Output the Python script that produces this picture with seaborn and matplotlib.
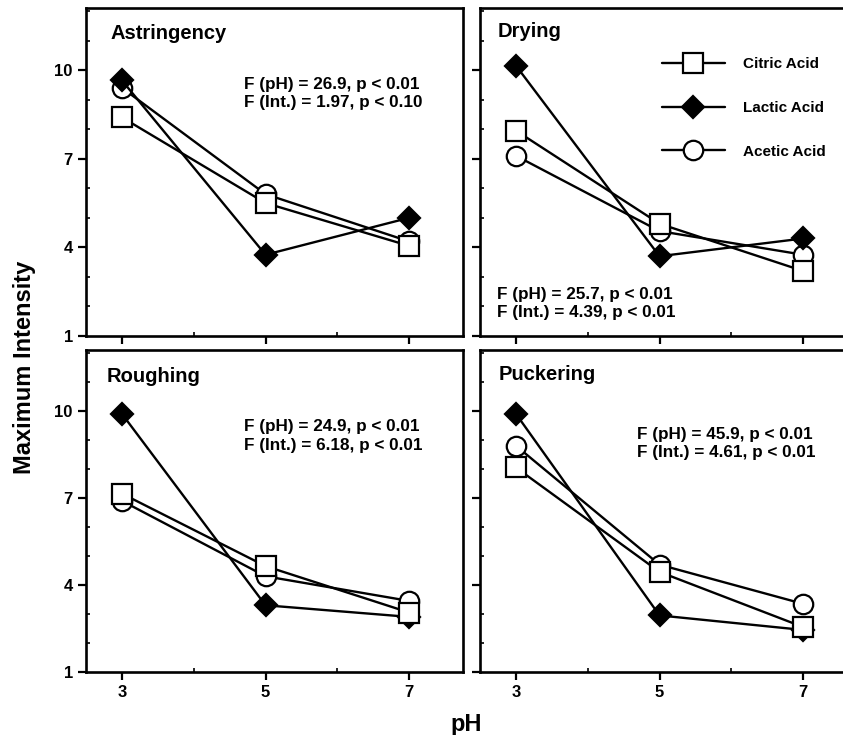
from matplotlib import pyplot as plt
from matplotlib.ticker import MultipleLocator, FixedLocator
import seaborn as sns
import pandas as pd

ph_levels = [3, 5, 7]
acids = ["Citric Acid", "Lactic Acid", "Acetic Acid"]
panels = ["Astringency", "Drying", "Roughing", "Puckering"]

citric = {
    "Astringency": [8.4, 5.5, 4.05],
    "Drying": [7.95, 4.8, 3.2],
    "Roughing": [7.15, 4.65, 3.05],
    "Puckering": [8.05, 4.45, 2.55],
}
lactic = {
    "Astringency": [9.65, 3.75, 5.0],
    "Drying": [10.15, 3.7, 4.3],
    "Roughing": [9.9, 3.3, 2.9],
    "Puckering": [9.9, 2.95, 2.45],
}
acetic = {
    "Astringency": [9.4, 5.8, 4.2],
    "Drying": [7.1, 4.55, 3.75],
    "Roughing": [6.9, 4.3, 3.45],
    "Puckering": [8.8, 4.7, 3.35],
}

stats_text = {
    "Astringency": "F (pH) = 26.9, p < 0.01\nF (Int.) = 1.97, p < 0.10",
    "Drying": "F (pH) = 25.7, p < 0.01\nF (Int.) = 4.39, p < 0.01",
    "Roughing": "F (pH) = 24.9, p < 0.01\nF (Int.) = 6.18, p < 0.01",
    "Puckering": "F (pH) = 45.9, p < 0.01\nF (Int.) = 4.61, p < 0.01",
}
# where things sit inside each panel (axes fraction)
stats_pos = {
    "Astringency": (0.42, 0.79),
    "Drying": (0.045, 0.15),
    "Roughing": (0.42, 0.785),
    "Puckering": (0.416, 0.762),
}
title_pos = {
    "Astringency": (0.064, 0.905),
    "Drying": (0.048, 0.912),
    "Roughing": (0.056, 0.90),
    "Puckering": (0.05, 0.907),
}

rows = []
for acid, series in zip(acids, [citric, lactic, acetic]):
    for panel in panels:
        for ph, val in zip(ph_levels, series[panel]):
            rows.append({"acid": acid, "panel": panel, "pH": ph, "intensity": val})
df = pd.DataFrame(rows)

sns.set_theme(style="ticks")
plt.rcParams["font.family"] = ["Liberation Sans", "DejaVu Sans"]
plt.rcParams["font.weight"] = "bold"
plt.rcParams["text.color"] = "black"
plt.rcParams["xtick.color"] = "black"
plt.rcParams["ytick.color"] = "black"

fig = plt.figure(figsize=(8.43, 7.35), dpi=100)
W, H = 843, 735
boxes = {
    "Astringency": (86, 8, 377, 328),
    "Drying": (480, 8, 377, 328),
    "Roughing": (86, 350, 377, 322),
    "Puckering": (480, 350, 377, 322),
}

marker_style = {
    "Citric Acid": dict(marker="s", markersize=14, markerfacecolor="white"),
    "Lactic Acid": dict(marker="D", markersize=11.5, markerfacecolor="black"),
    "Acetic Acid": dict(marker="o", markersize=14, markerfacecolor="white"),
}
draw_order = ["Acetic Acid", "Lactic Acid", "Citric Acid"]

for i, panel in enumerate(panels):
    x0, y0, w, h = boxes[panel]
    ax = fig.add_axes([x0 / W, 1 - (y0 + h) / H, w / W, h / H])
    sub = df[df["panel"] == panel]
    for acid in draw_order:
        sns.lineplot(data=sub[sub["acid"] == acid], x="pH", y="intensity", ax=ax,
                     color="black", linewidth=1.7, markeredgecolor="black",
                     markeredgewidth=1.6, label=acid if panel == "Drying" else None,
                     legend=False, **marker_style[acid])
    ax.set_xlim(2.5, 7.75)
    ax.set_ylim(1, 12.1)
    ax.xaxis.set_major_locator(FixedLocator(ph_levels))
    ax.xaxis.set_minor_locator(FixedLocator([4, 6]))
    ax.yaxis.set_major_locator(MultipleLocator(3, offset=1))
    ax.yaxis.set_minor_locator(MultipleLocator(1))
    ax.tick_params(which="major", direction="out", length=6, width=1.6, labelsize=12)
    ax.tick_params(which="minor", direction="in", length=3, width=1.2)
    for s in ax.spines.values():
        s.set_visible(True)
        s.set_linewidth(1.9)
        s.set_color("black")
    ax.set_xlabel("")
    ax.set_ylabel("")
    if i < 2:
        ax.tick_params(axis="x", labelbottom=False)
    if i % 2 == 1:
        ax.tick_params(axis="y", labelleft=False)
    for lab in ax.get_xticklabels() + ax.get_yticklabels():
        lab.set_fontweight("bold")
    tx, ty = title_pos[panel]
    ax.text(tx, ty, panel, transform=ax.transAxes, fontsize=14.5,
            fontweight="bold", va="baseline", ha="left")
    sx, sy = stats_pos[panel]
    ax.text(sx, sy, stats_text[panel], transform=ax.transAxes, fontsize=12.3,
            fontweight="bold", va="top", ha="left", linespacing=1.3)
    if panel == "Drying":
        handles, labels = ax.get_legend_handles_labels()
        order = [labels.index(a) for a in acids]
        ax.legend([handles[k] for k in order], [labels[k] for k in order],
                  loc="upper left", bbox_to_anchor=(0.483, 0.85), frameon=False,
                  borderpad=0, borderaxespad=0,
                  handlelength=4.1, labelspacing=1.95, handletextpad=1.2,
                  prop={"weight": "bold", "size": 11})

fig.text(466 / W, 1 - 725 / H, "pH", ha="center", va="center",
         fontsize=17, fontweight="bold")
fig.text(25 / W, 1 - 367 / H, "Maximum Intensity", ha="center", va="center",
         rotation=90, fontsize=17, fontweight="bold")

plt.savefig("out.png", dpi=100)
plt.close()
